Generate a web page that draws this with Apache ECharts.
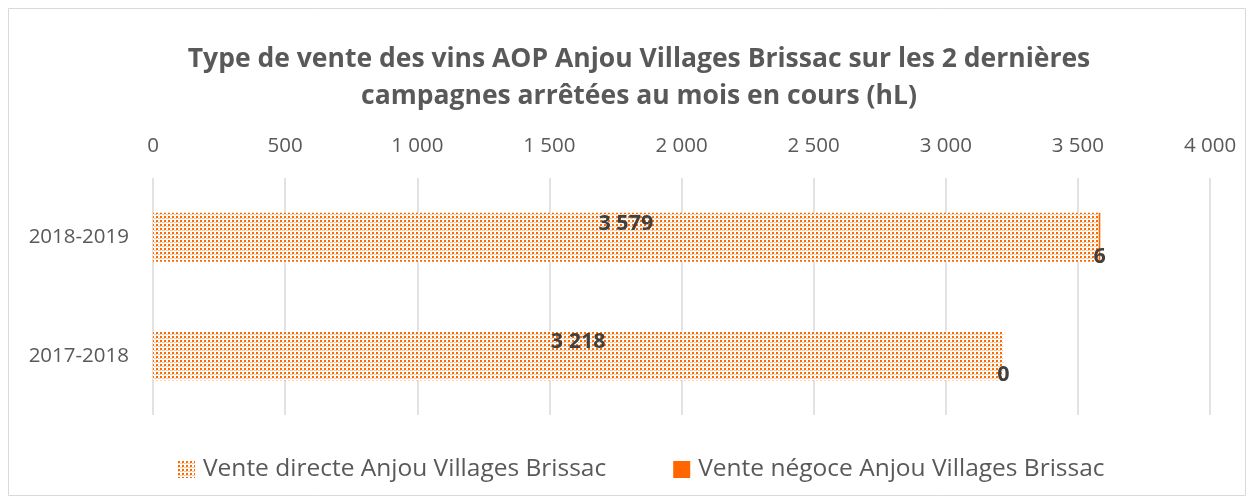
<!DOCTYPE html>
<html><head><meta charset="utf-8">
<script src="https://cdn.jsdelivr.net/npm/echarts@6/dist/echarts.min.js"></script>
<style>html,body{margin:0;padding:0;background:#fff}#c{width:1254px;height:504px}</style>
</head><body><div id="c"></div>
<script>
const categories = ['2017-2018', '2018-2019'];
const venteDirecte = [3218, 3579];
const venteNegoce = [0, 6];
const seriesNames = ['Vente directe Anjou Villages Brissac', 'Vente négoce Anjou Villages Brissac'];
const titleText = 'Type de vente des vins AOP Anjou Villages Brissac sur les 2 dernières\ncampagnes arrêtées au mois en cours (hL)';

function fmt(v){ return String(Math.round(v)).replace(/\B(?=(\d{3})+(?!\d))/g, ' '); }

const pc = document.createElement('canvas');
pc.width = 4; pc.height = 4;
const ctx = pc.getContext('2d');
ctx.fillStyle = '#ffffff'; ctx.fillRect(0,0,4,4);
ctx.fillStyle = '#FF6A00';
ctx.fillRect(0,0,2,2);
ctx.fillStyle = '#FFC9A0';
ctx.fillRect(2,2,2,1);
ctx.fillRect(0,2,1,1);

const FONT = 'Open Sans';
const chart = echarts.init(document.getElementById('c'));
chart.setOption({
  backgroundColor: '#fff',
  animation: false,
  graphic: [{type:'rect', shape:{x:8.5,y:8.5,width:1237,height:487}, style:{fill:'none', stroke:'#D9D9D9', lineWidth:1}}],
  title: {
    text: titleText, left: 639, top: 41, textAlign: 'center', padding: 0,
    textStyle: {fontFamily: FONT, fontWeight: 'bold', fontSize: 26.5, color: '#595959', lineHeight: 37}
  },
  legend: {
    bottom: 17, left: 173, itemGap: 67, itemWidth: 17, itemHeight: 17, icon: 'rect',
    textStyle: {fontFamily: FONT, fontSize: 24.5, color: '#595959', padding: [0, 0, 0, 3]},
    data: seriesNames
  },
  grid: {left: 153, right: 44, top: 178, bottom: 89},
  xAxis: {
    type: 'value', position: 'top', min: 0, max: 4000, interval: 500,
    axisLine: {show: false}, axisTick: {show: false},
    splitLine: {lineStyle: {color: '#D9D9D9', width: 1.5}},
    axisLabel: {formatter: fmt, margin: 21, fontFamily: FONT, fontSize: 20.5, color: '#595959'}
  },
  yAxis: {
    type: 'category', data: categories,
    axisLine: {show: false}, axisTick: {show: false},
    axisLabel: {margin: 24, fontFamily: FONT, fontSize: 20.5, color: '#595959'}
  },
  series: [
    {
      name: seriesNames[0], type: 'bar', stack: 's', data: venteDirecte, barWidth: 49,
      itemStyle: {color: {image: pc, repeat: 'repeat'}},
      label: {show: true, position: 'insideTop', distance: 0, formatter: p => fmt(p.value),
        fontFamily: FONT, fontWeight: 'bold', fontSize: 21.5, color: '#404040'}
    },
    {
      name: seriesNames[1], type: 'bar', stack: 's', data: venteNegoce, barWidth: 49,
      itemStyle: {color: '#FF6600'},
      label: {show: true, position: 'insideBottom', distance: -6, formatter: p => fmt(p.value),
        fontFamily: FONT, fontWeight: 'bold', fontSize: 21.5, color: '#404040'}
    }
  ]
});
</script></body></html>
